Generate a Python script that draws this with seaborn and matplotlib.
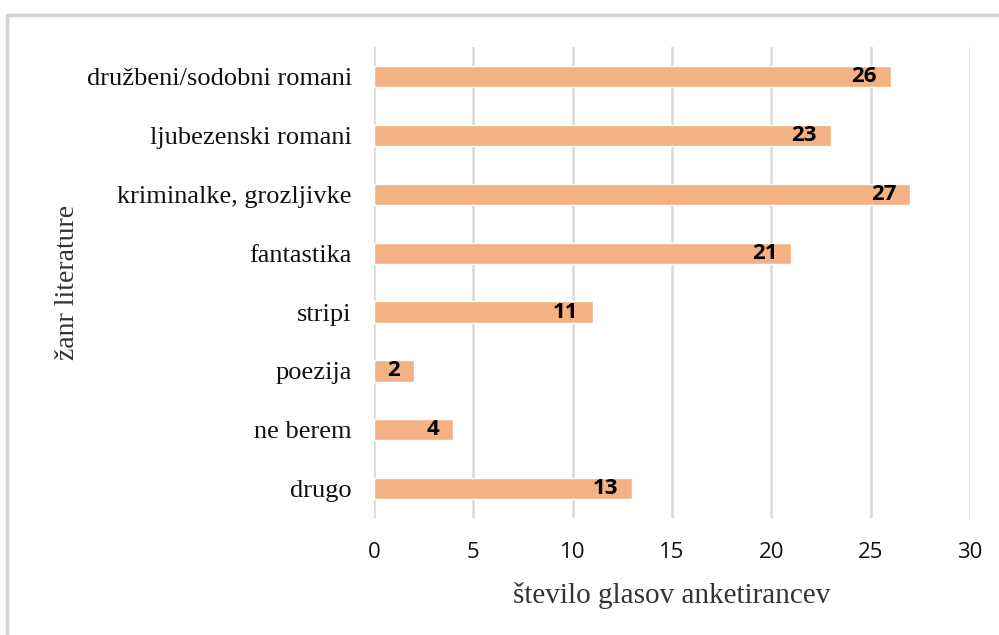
import matplotlib
matplotlib.use("Agg")
import matplotlib.pyplot as plt
import matplotlib.lines as mlines
import pandas as pd
import seaborn as sns

GENRES = [
    "družbeni/sodobni romani",
    "ljubezenski romani",
    "kriminalke, grozljivke",
    "fantastika",
    "stripi",
    "poezija",
    "ne berem",
    "drugo",
]
VOTES = [26, 23, 27, 21, 11, 2, 4, 13]
X_TICKS = [0, 5, 10, 15, 20, 25, 30]

BAR_COLOR = "#F4B183"
GRID_COLOR = "#D9D9D9"
SERIF = ["Liberation Serif", "DejaVu Serif"]
SANS = ["Open Sans", "DejaVu Sans"]

df = pd.DataFrame({"genre": GENRES, "votes": VOTES})

sns.set_theme(style="white")
fig = plt.figure(figsize=(9.99, 6.35), dpi=100)
ax = fig.add_axes([0.3744, 0.184, 0.5966, 0.742])

sns.barplot(data=df, x="votes", y="genre", color=BAR_COLOR, width=0.36,
            saturation=1, ax=ax)

ax.set_xlim(0, 30)
ax.set_ylim(len(GENRES) - 0.5, -0.5)
ax.set_xticks(X_TICKS)
ax.set_xticklabels([str(t) for t in X_TICKS], fontfamily=SANS, fontsize=16,
                   color="#111111")
ax.set_yticks(range(len(GENRES)))
ax.set_yticklabels(GENRES, fontfamily=SERIF, fontsize=19, color="#111111")
ax.tick_params(axis="x", length=0, pad=17)
ax.tick_params(axis="y", length=0, pad=16)

ax.grid(axis="x", color=GRID_COLOR, linewidth=1.8)
ax.set_axisbelow(True)
for spine in ax.spines.values():
    spine.set_visible(False)

ax.set_xlabel("število glasov anketirancev", fontfamily=SERIF, fontsize=21,
              color="#333333", labelpad=14)
ax.set_ylabel("žanr literature", fontfamily=SERIF, fontsize=20,
              color="#333333", labelpad=5)

# value labels right-aligned just inside the end of each bar
for i, v in enumerate(VOTES):
    ax.annotate(str(v), xy=(v, i), xytext=(-10, 0), textcoords="offset points",
                ha="right", va="center", fontfamily=SANS, fontsize=16,
                fontweight="bold", color="black")

# outer frame (top and left edges visible in the reference)
fig.add_artist(mlines.Line2D([0.007, 1.0], [0.977, 0.977], color="#D4D4D4",
                             linewidth=2.5, transform=fig.transFigure))
fig.add_artist(mlines.Line2D([0.007, 0.007], [0.0, 0.977], color="#D4D4D4",
                             linewidth=2.5, transform=fig.transFigure))

fig.savefig("out.png", dpi=100)
